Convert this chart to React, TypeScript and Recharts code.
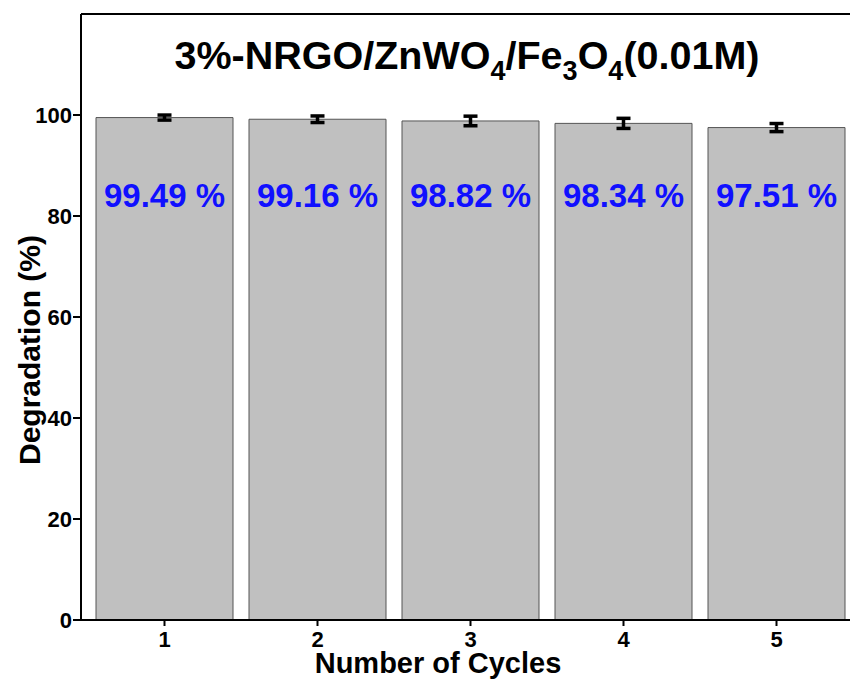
import React from "react";
import {
  BarChart,
  Bar,
  XAxis,
  YAxis,
  ErrorBar,
  LabelList,
  ReferenceLine,
  Customized,
} from "recharts";

// Degradation efficiency over repeated photocatalytic cycles
const cycles = ["1", "2", "3", "4", "5"];
const degradation = [99.49, 99.16, 98.82, 98.34, 97.51];
const errors = [0.5, 0.65, 0.95, 1.0, 0.8];
const yTicks = [0, 20, 40, 60, 80, 100];
const yMax = 120;
// value level at which the percentage labels sit inside the bars
const labelLevel = 84;

const data = cycles.map((c, i) => ({
  cycle: c,
  value: degradation[i],
  err: errors[i],
}));

const FONT = "'Liberation Sans', Arial, Helvetica, sans-serif";

const ValueLabel = (props: any) => {
  const { x, y, width, height, value } = props;
  const base = Number(y) + Number(height);
  const ty = base - (Number(height) * labelLevel) / Number(value);
  return (
    <text
      x={Number(x) + Number(width) / 2}
      y={ty}
      textAnchor="middle"
      dominantBaseline="central"
      fill="#1010ff"
      fontFamily={FONT}
      fontWeight="bold"
      fontSize={33}
    >
      {`${Number(value).toFixed(2)} %`}
    </text>
  );
};

const AxisTick = (props: any) => {
  const { x, y, payload, textAnchor, orientation } = props;
  const isX = orientation === "bottom";
  return (
    <text
      x={x}
      y={y}
      textAnchor={textAnchor}
      dominantBaseline={isX ? "hanging" : "central"}
      fill="#000"
      fontFamily={FONT}
      fontWeight="bold"
      fontSize={22}
    >
      {payload.value}
    </text>
  );
};

const Decorations = () => (
  <g fontFamily={FONT} fontWeight="bold" fill="#000">
    <text x={467} y={69} textAnchor="middle" fontSize={39.5}>
      <tspan>3%-NRGO/ZnWO</tspan>
      <tspan fontSize={27} dy={11}>4</tspan>
      <tspan dy={-11}>/Fe</tspan>
      <tspan fontSize={27} dy={11}>3</tspan>
      <tspan dy={-11}>O</tspan>
      <tspan fontSize={27} dy={11}>4</tspan>
      <tspan dy={-11}>(0.01M)</tspan>
    </text>
    <text x={438} y={673} textAnchor="middle" fontSize={29}>
      Number of Cycles
    </text>
    <text
      x={0}
      y={0}
      textAnchor="middle"
      fontSize={30}
      transform="translate(40, 350) rotate(-90)"
    >
      Degradation (%)
    </text>
  </g>
);

export default function App() {
  return (
    <div
      style={{
        position: "absolute",
        left: 0,
        top: 0,
        width: 850,
        height: 680,
        overflow: "hidden",
        background: "#fff",
      }}
    >
      <BarChart
        width={860}
        height={680}
        data={data}
        margin={{ top: 14, right: 7, bottom: 0, left: 0 }}
        barCategoryGap={8}
      >
        <XAxis
          dataKey="cycle"
          height={60}
          padding={{ left: 7, right: 0 }}
          axisLine={{ stroke: "#000", strokeWidth: 2 }}
          tickLine={{ stroke: "#000", strokeWidth: 2 }}
          tickSize={6}
          tickMargin={5}
          tick={AxisTick}
        />
        <YAxis
          width={81}
          domain={[0, yMax]}
          ticks={yTicks}
          axisLine={{ stroke: "#000", strokeWidth: 2 }}
          tickLine={{ stroke: "#000", strokeWidth: 2 }}
          tickSize={8}
          tickMargin={1}
          tick={AxisTick}
        />
        <ReferenceLine y={yMax} stroke="#000" strokeWidth={2} ifOverflow="visible" />
        <Bar
          dataKey="value"
          fill="#c0c0c0"
          stroke="#555"
          strokeWidth={1}
          isAnimationActive={false}
        >
          <ErrorBar dataKey="err" width={7} stroke="#000" strokeWidth={3.5} />
          <LabelList dataKey="value" content={ValueLabel} />
        </Bar>
        <Customized component={Decorations} />
      </BarChart>
    </div>
  );
}
